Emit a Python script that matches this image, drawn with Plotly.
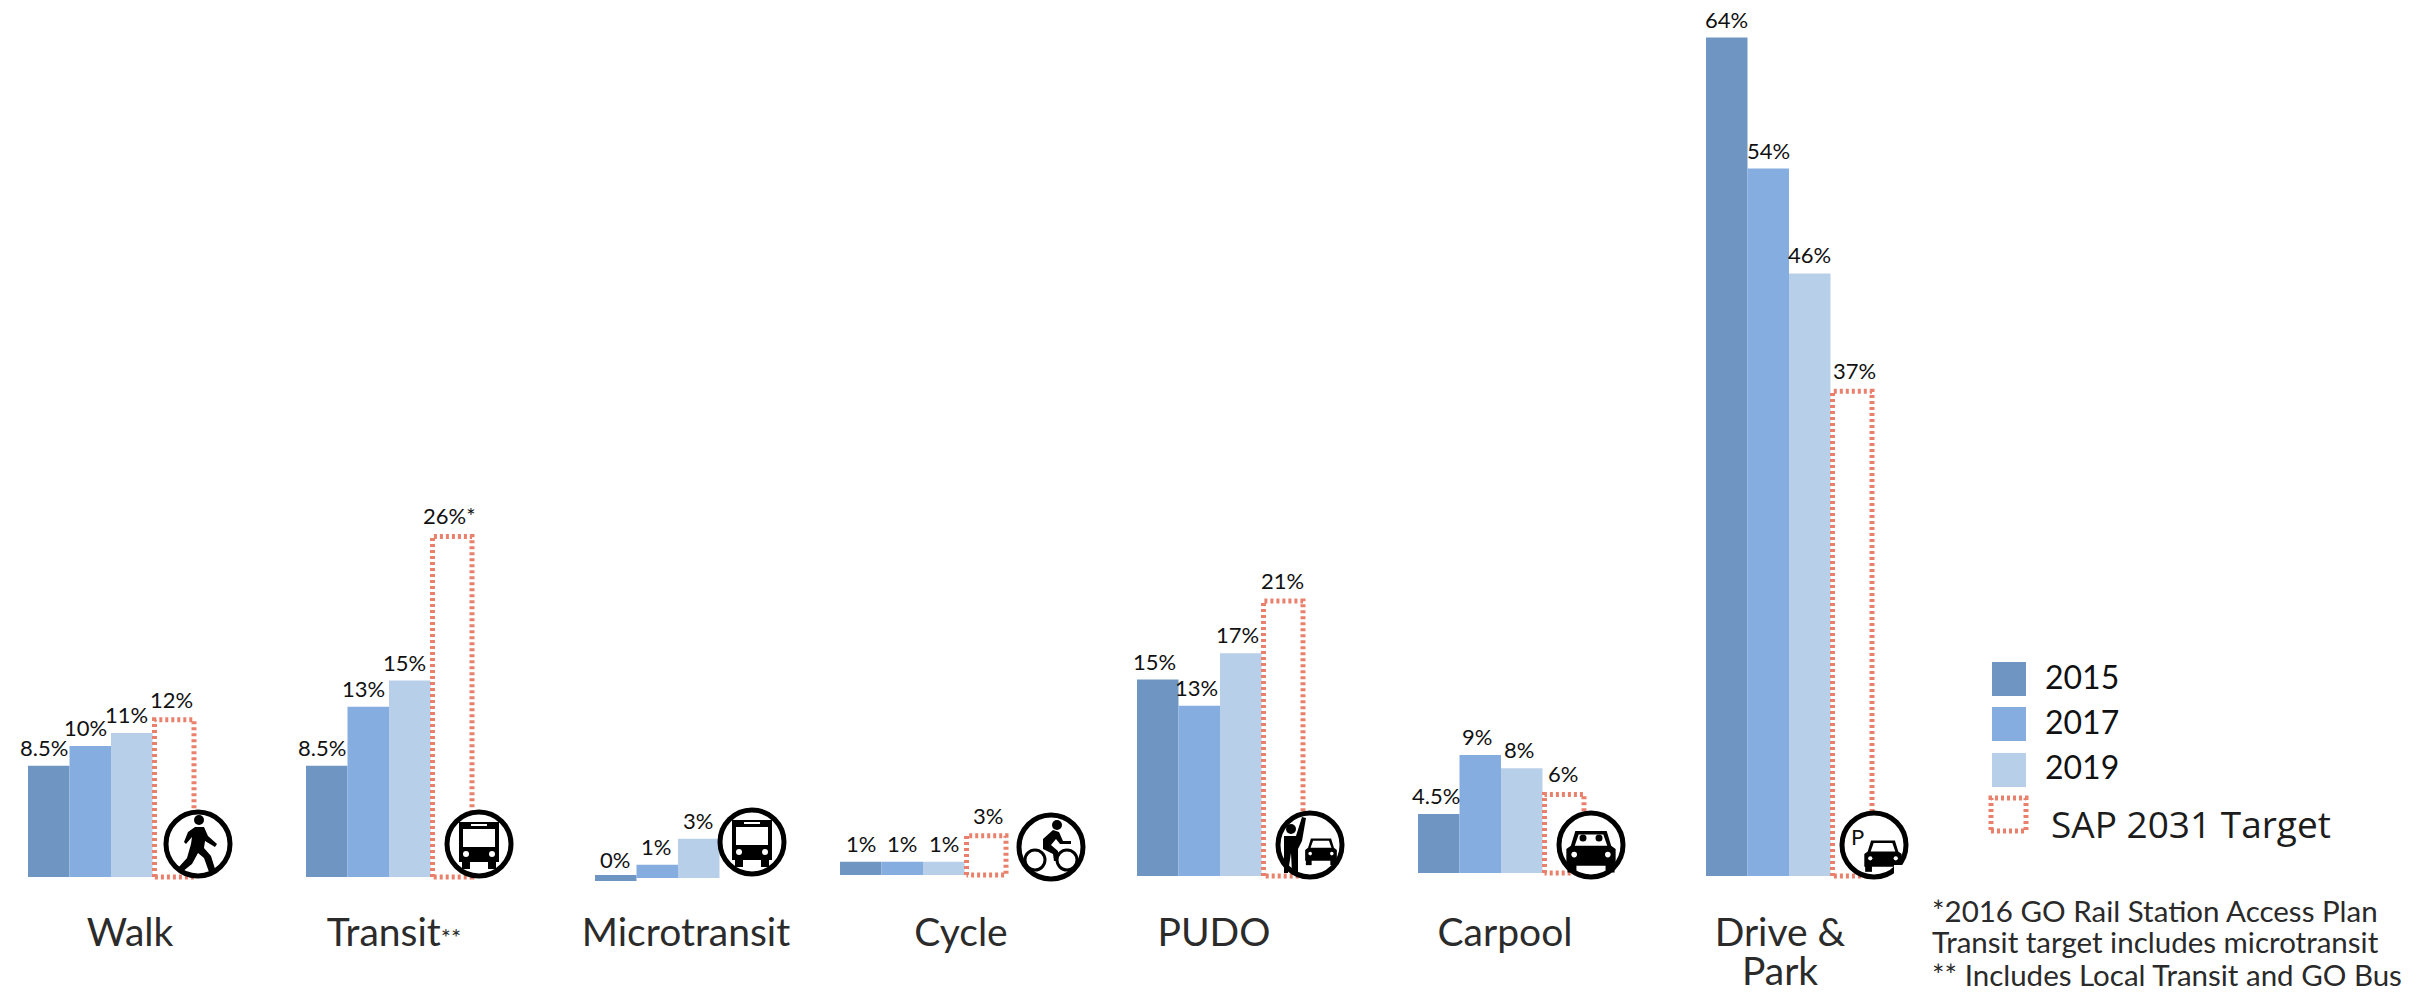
import plotly.graph_objects as go

# Mode share by access mode, in percent
modes = ["Walk", "Transit<span style=\"font-size:24px\">**</span>", "Microtransit", "Cycle", "PUDO", "Carpool", "Drive &"]
second_line = "Park"
share_2015 = [8.5, 8.5, 0, 1, 15, 4.5, 64]
share_2017 = [10, 13, 1, 1, 13, 9, 54]
share_2019 = [11, 15, 3, 1, 17, 8, 46]
target_2031 = [12, 26, None, 3, 21, 6, 37]
target_marks = ["", "*", "", "", "", "", ""]

# Page geometry: the x axis runs in page pixels, the y axis in percent
W, H = 2423, 994
PLOT_BOTTOM = 894
BASE_PX = 876
PX_PER_PCT = 13.1
BAR_W = 41.5

group_left = [28, 306, 595, 840, 1137, 1418, 1706]
label_center = [130, 394, 686, 961, 1214, 1505, 1780]
group_lift = [-0.08, -0.08, -0.15, 0.08, 0, 0.23, 0]
label_shift = [-5, -5, -1, 0, -3, -3, 0]
icon_center = [(198, 844), (479, 844), (752, 842), (1051, 847), (1310, 845), (1591, 845), (1874, 845)]

COL_2015, COL_2017, COL_2019 = "#6F96C2", "#85ADDF", "#B8CFEA"
COL_TARGET = "#E9806C"
INK = "#222222"
SANS = "Lato, 'Noto Sans', sans-serif"
DOTS = "3px,3px"


def px(x):
    return x / W


def py(y):
    return 1 - y / PLOT_BOTTOM


def slot_x(slot, nudge=0):
    return [g + (slot + 0.5) * BAR_W + nudge for g in group_left]


fig = go.Figure()

# Observed years
for slot, (year, vals, col) in enumerate(
    [("2015", share_2015, COL_2015), ("2017", share_2017, COL_2017), ("2019", share_2019, COL_2019)]
):
    fig.add_trace(go.Bar(
        name=year, x=slot_x(slot), y=vals, base=group_lift, width=BAR_W,
        marker=dict(color=col, line=dict(color=col, width=[6 if v == 0 else 0 for v in vals])),
        cliponaxis=False, hoverinfo="x+y",
    ))

# Target outline: dotted rectangles following each target value
tx, ty = [], []
for x, v, b in zip(slot_x(3, 1), target_2031, group_lift):
    if v is None:
        continue
    half = BAR_W / 2 - 1
    tx += [x - half, x - half, x + half, x + half, x - half, None]
    ty += [b, b + v, b + v, b, b, None]
fig.add_trace(go.Scatter(
    name="SAP 2031 Target", x=tx, y=ty, mode="lines",
    line=dict(color=COL_TARGET, width=5, dash=DOTS),
    cliponaxis=False, hoverinfo="skip",
))

annotations = []


def note(x, y, text, size, anchor="left", color=INK, family=SANS, xref="paper", yref="paper", **kw):
    annotations.append(dict(
        x=x, y=y, xref=xref, yref=yref, text=text, showarrow=False, xanchor=anchor,
        font=dict(size=size, color=color, family=family), **kw,
    ))


# Value labels above every bar
series = [(0, share_2015, None), (1, share_2017, None), (2, share_2019, None), (3, target_2031, target_marks)]
for slot, vals, marks in series:
    nudge = 3 if slot == 3 else 0
    for i, (x, v) in enumerate(zip(slot_x(slot, nudge), vals)):
        if v is None:
            continue
        suffix = marks[i] if marks else ""
        note(x, v + group_lift[i], f"{v:g}%{suffix}", 22, "center", "#111111", xref="x", yref="y",
             yanchor="bottom", xshift=label_shift[i], yshift=3 if slot < 3 else 5)

shapes = []


def poly(cx, cy, pts, fill="#000000", scale=1.0):
    d = "M" + " L".join(f"{px(cx + a * scale):.5f},{py(cy + b * scale):.5f}" for a, b in pts) + " Z"
    shapes.append(dict(type="path", xref="paper", yref="paper", path=d, fillcolor=fill, line=dict(width=0), layer="above"))


def disc(cx, cy, r, fill="#000000", edge=None, edge_w=0):
    shapes.append(dict(
        type="circle", xref="paper", yref="paper", x0=px(cx - r), x1=px(cx + r), y0=py(cy + r), y1=py(cy - r),
        fillcolor=fill, line=dict(color=edge or fill, width=edge_w), layer="above",
    ))


def box(cx, cy, x0, y0, x1, y1, fill="#000000"):
    poly(cx, cy, [(x0, y0), (x1, y0), (x1, y1), (x0, y1)], fill)


def bus(cx, cy):
    box(cx, cy, -20, -22, 20, 18)
    box(cx, cy, -17, 17, -9, 25)
    box(cx, cy, 9, 17, 17, 25)
    box(cx, cy, -16, -15, 16, 3, "#ffffff")
    box(cx, cy, -8, -20, 8, -18, "#ffffff")
    disc(cx - 13, cy + 10, 3, "#ffffff")
    disc(cx + 13, cy + 10, 3, "#ffffff")


def car(cx, cy, s=1.0):
    poly(cx, cy, [(-14, -16), (14, -16), (18, -3), (22, 0), (22, 15), (-22, 15), (-22, 0), (-18, -3)], scale=s)
    poly(cx, cy, [(-11, -13), (11, -13), (14.5, -3), (-14.5, -3)], "#ffffff", s)
    box(cx, cy, -21 * s, 14 * s, -13 * s, 21 * s)
    box(cx, cy, 13 * s, 14 * s, 21 * s, 21 * s)
    disc(cx - 15 * s, cy + 5 * s, 2.5 * s, "#ffffff")
    disc(cx + 15 * s, cy + 5 * s, 2.5 * s, "#ffffff")


def walker(cx, cy):
    disc(cx + 1, cy - 24, 5)
    poly(cx, cy, [(-3, -17), (6, -17), (10, -8), (19, 0), (17, 3), (7, -3), (6, 4), (13, 12), (18, 28), (11, 28),
                  (6, 14), (0, 9), (-6, 20), (-16, 28), (-20, 24), (-11, 14), (-7, 0), (-6, -7), (-12, 0), (-14, -2),
                  (-10, -12)])


def cyclist(cx, cy):
    disc(cx + 6, cy - 22, 5)
    poly(cx, cy, [(-8, -8), (2, -17), (8, -15), (12, -6), (20, -6), (20, -3), (9, -3), (5, -8), (0, -2), (7, 4),
                  (7, 14), (3, 14), (2, 7), (-8, 2)])
    disc(cx - 16, cy + 13, 10, "rgba(0,0,0,0)", "#000000", 3)
    disc(cx + 16, cy + 13, 10, "rgba(0,0,0,0)", "#000000", 3)


def pickup(cx, cy):
    disc(cx - 19, cy - 16, 5)
    poly(cx, cy, [(-26, -9), (-14, -9), (-8, -28), (-4, -27), (-8, -4), (-12, 4), (-12, 28), (-18, 28), (-19, 8),
                  (-22, 28), (-26, 28)])
    car(cx + 11, cy + 5, 0.72)


def carpool(cx, cy):
    car(cx, cy + 4, 1.12)
    disc(cx - 8, cy - 7, 3.5)
    disc(cx + 8, cy - 7, 3.5)


def parking(cx, cy):
    car(cx + 9, cy + 9, 0.85)


glyphs = [walker, bus, bus, cyclist, pickup, carpool, parking]

for (cx, cy), glyph in zip(icon_center, glyphs):
    disc(cx, cy, 32, "#ffffff", "#000000", 5)
    glyph(cx, cy)

note(px(1857), py(836), "P", 22, "center", "#111111", yanchor="middle")

# Patch trimming the lower right of the parking badge
shapes.append(dict(type="rect", xref="paper", yref="paper", x0=px(1894), x1=px(1925), y0=py(892), y1=py(865),
                   fillcolor="#ffffff", line=dict(width=0), layer="above"))

# Hand-placed key
for top, bottom, col in [(662, 696, COL_2015), (707, 741, COL_2017), (753, 787, COL_2019)]:
    shapes.append(dict(type="rect", xref="paper", yref="paper", x0=px(1992), x1=px(2026), y0=py(bottom), y1=py(top),
                       fillcolor=col, line=dict(width=0), layer="above"))
shapes.append(dict(type="rect", xref="paper", yref="paper", x0=px(1991), x1=px(2026), y0=py(831), y1=py(798),
                   fillcolor="rgba(0,0,0,0)", line=dict(color=COL_TARGET, width=5, dash=DOTS), layer="above"))
for y, year in [(676, "2015"), (721, "2017"), (766, "2019")]:
    note(px(2043), py(y), year, 32, "left", "#111111", yanchor="middle")
note(px(2049), py(823), "SAP 2031 Target", 37, "left", "#1c1c1c", family="'Open Sans', sans-serif", yanchor="middle")

# Footnotes
for y, line in [(910, "*2016 GO Rail Station Access Plan"),
                (942, "Transit target includes microtransit"),
                (974, "** Includes Local Transit and GO Bus")]:
    note(px(1930), py(y), line, 29.5, "left", "#2a2a2a", yanchor="middle")

# Second line of the last category, set tighter than a tick label wraps
note(1780, py(970), second_line, 39, "center", "#2b2b2b", xref="x", yanchor="middle")

fig.update_layout(
    width=W, height=H, barmode="overlay", showlegend=False,
    margin=dict(l=0, r=0, t=0, b=H - PLOT_BOTTOM, autoexpand=False),
    paper_bgcolor="#ffffff", plot_bgcolor="#ffffff",
    xaxis=dict(
        range=[0, W], showgrid=False, zeroline=False, showline=False,
        tickmode="array", tickvals=label_center, ticktext=modes,
        ticks="outside", ticklen=4, tickcolor="rgba(0,0,0,0)",
        tickfont=dict(size=39, color="#2b2b2b", family=SANS),
    ),
    yaxis=dict(
        range=[-(PLOT_BOTTOM - BASE_PX) / PX_PER_PCT, BASE_PX / PX_PER_PCT],
        visible=False, showgrid=False, zeroline=False,
    ),
    annotations=annotations, shapes=shapes,
)

fig.write_html("out.html")
